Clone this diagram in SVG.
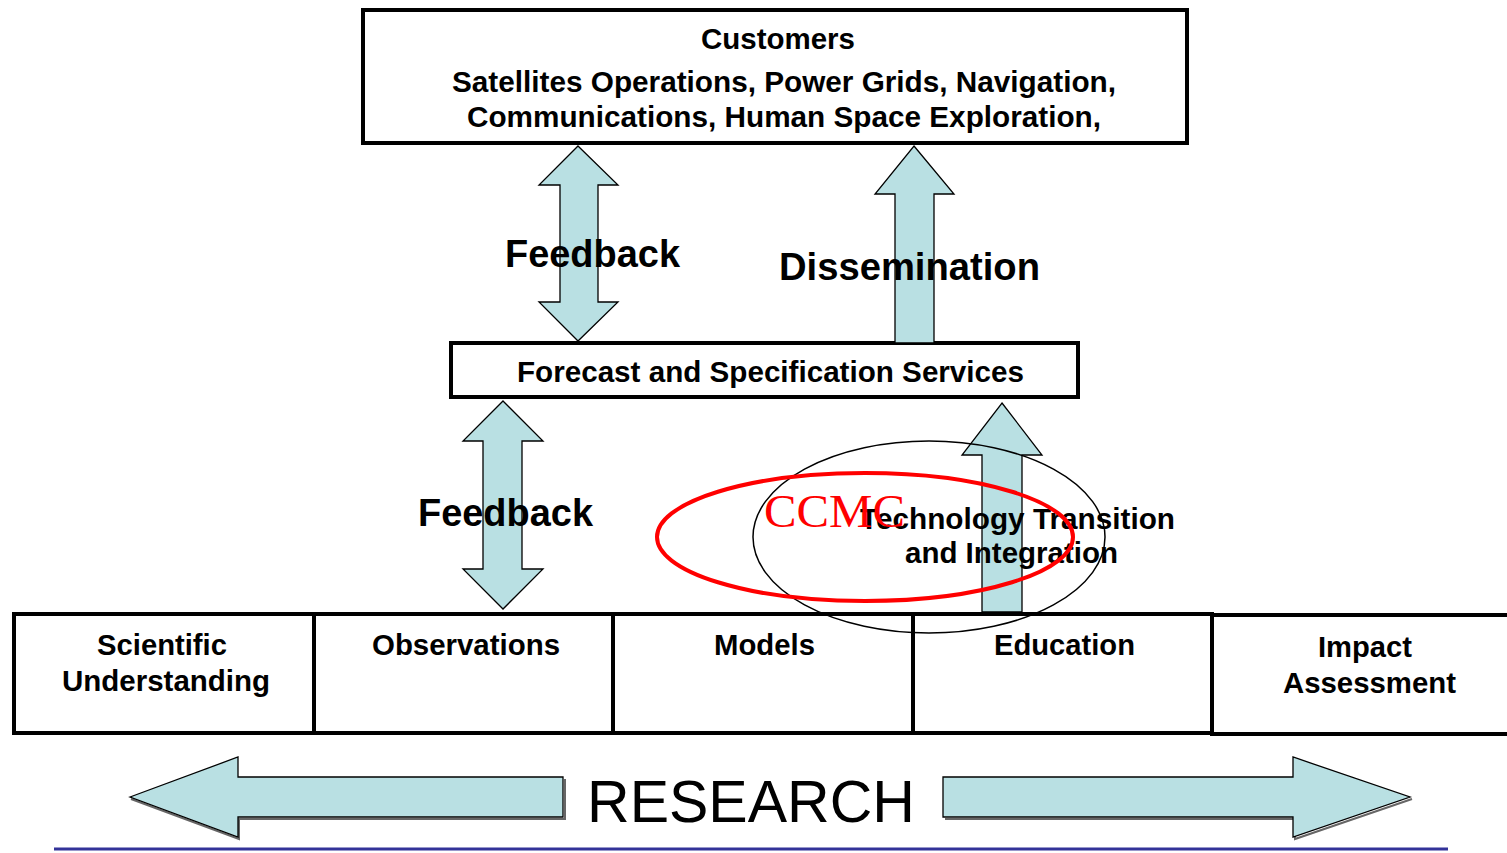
<svg xmlns="http://www.w3.org/2000/svg" width="1507" height="853" viewBox="0 0 1507 853">
<style>
.box{fill:#fff;stroke:#000;stroke-width:4}
.arr{fill:#B9E0E3;stroke:#000;stroke-width:1.3;stroke-linejoin:miter}
.t{font-family:"Liberation Sans",Arial,sans-serif;font-weight:bold;fill:#000;text-anchor:middle}
.lbl{font-size:29px}
.big{font-size:38px}
</style>
<rect width="1507" height="853" fill="#fff"/>
<g id="customers">
<rect class="box" x="363" y="10" width="824" height="133"/>
<text class="t lbl" x="778" y="49" textLength="154" lengthAdjust="spacingAndGlyphs">Customers</text>
<text class="t lbl" x="784" y="92" textLength="664" lengthAdjust="spacingAndGlyphs">Satellites Operations, Power Grids, Navigation,</text>
<text class="t lbl" x="784" y="127" textLength="634" lengthAdjust="spacingAndGlyphs">Communications, Human Space Exploration,</text>
</g>
<g id="forecast">
<rect class="box" x="451" y="343" width="627" height="54"/>
<text class="t lbl" x="770.5" y="382" textLength="507" lengthAdjust="spacingAndGlyphs">Forecast and Specification Services</text>
</g>
<g id="connectors">
<path id="feedback-top" class="arr" d="M578,146 L618,185 L598,185 L598,302 L618,302 L578,341 L539,302 L560,302 L560,185 L539,185 Z"/>
<path id="dissemination" class="arr" d="M914,146 L954,194 L934,194 L934,343 L895,343 L895,194 L875,194 Z"/>
<path id="feedback-bottom" class="arr" d="M503,401 L543,441 L522,441 L522,569 L543,569 L503,609 L463,569 L483,569 L483,441 L463,441 Z"/>
<path id="tech-transition" class="arr" d="M1002,403 L1042,455 L1022,455 L1022,612 L982,612 L982,455 L962,455 Z"/>
<text class="t big" x="592.5" y="267" textLength="175" lengthAdjust="spacingAndGlyphs">Feedback</text>
<text class="t big" x="909.5" y="280" textLength="261" lengthAdjust="spacingAndGlyphs">Dissemination</text>
<text class="t big" x="505.5" y="526" textLength="175" lengthAdjust="spacingAndGlyphs">Feedback</text>
</g>
<g id="scientific">
<rect class="box" x="14" y="614" width="300" height="119"/>
<text class="t lbl" x="162" y="655" textLength="130" lengthAdjust="spacingAndGlyphs">Scientific</text>
<text class="t lbl" x="166" y="691" textLength="208" lengthAdjust="spacingAndGlyphs">Understanding</text>
</g>
<g id="observations">
<rect class="box" x="314" y="614" width="299" height="119"/>
<text class="t lbl" x="466" y="655" textLength="188" lengthAdjust="spacingAndGlyphs">Observations</text>
</g>
<g id="models">
<rect class="box" x="613" y="614" width="300" height="119"/>
<text class="t lbl" x="764.5" y="655" textLength="101" lengthAdjust="spacingAndGlyphs">Models</text>
</g>
<g id="education">
<rect class="box" x="913" y="614" width="299" height="119"/>
<text class="t lbl" x="1064.5" y="655" textLength="141" lengthAdjust="spacingAndGlyphs">Education</text>
</g>
<g id="impact">
<rect class="box" x="1212" y="615" width="310" height="119"/>
<text class="t lbl" x="1365" y="657" textLength="94" lengthAdjust="spacingAndGlyphs">Impact</text>
<text class="t lbl" x="1369.5" y="693" textLength="173" lengthAdjust="spacingAndGlyphs">Assessment</text>
</g>
<g id="ccmc">
<ellipse cx="929" cy="537" rx="176" ry="96" fill="none" stroke="#000" stroke-width="1.5"/>
<text class="t" font-size="29" x="1017.5" y="529" textLength="315" lengthAdjust="spacingAndGlyphs">Technology Transition</text>
<text class="t" font-size="29" x="1011.5" y="563" textLength="213" lengthAdjust="spacingAndGlyphs">and Integration</text>
<ellipse cx="865" cy="537" rx="208" ry="64" fill="none" stroke="#F00" stroke-width="4"/>
<text x="764" y="527" font-family="'Liberation Serif','Times New Roman',serif" font-size="47" fill="#F00" textLength="141" lengthAdjust="spacingAndGlyphs">CCMC</text>
</g>
<g id="research">
<path d="M131,799 L239,839 L239,819 L565,819 L565,779" fill="none" stroke="#666" stroke-width="2"/>
<path class="arr" d="M130,797 L238,757 L238,777 L563,777 L563,817 L238,817 L238,837 Z"/>
<path d="M945,819 L1295,819 L1295,839 L1412,799" fill="none" stroke="#666" stroke-width="2"/>
<path class="arr" d="M943,777 L1293,777 L1293,757 L1410,797 L1293,837 L1293,817 L943,817 Z"/>
<text x="751" y="822" font-family="'Liberation Sans',Arial,sans-serif" font-size="59" text-anchor="middle" fill="#000" textLength="328" lengthAdjust="spacingAndGlyphs">RESEARCH</text>
</g>
<line x1="54" y1="849" x2="1448" y2="849" stroke="#333399" stroke-width="3"/>
</svg>
